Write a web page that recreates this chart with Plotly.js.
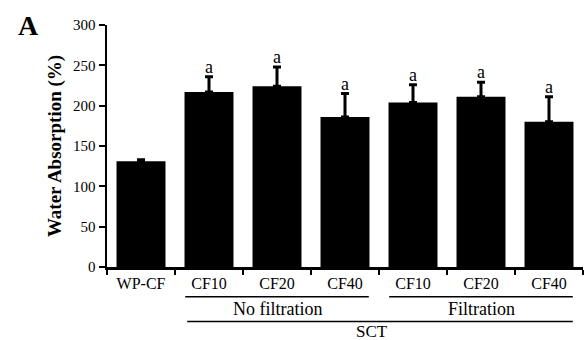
<!DOCTYPE html>
<html>
<head>
<meta charset="utf-8">
<script src="https://cdn.plot.ly/plotly-3.0.1.min.js"></script>
<style>html,body{margin:0;padding:0;background:#fff;}#chart{width:584px;height:340px;}</style>
</head>
<body>
<div id="chart"></div>
<script>
const categories = ["WP-CF", "CF10", "CF20", "CF40", "CF10 ", "CF20 ", "CF40 "];
const tickLabels = ["WP-CF", "CF10", "CF20", "CF40", "CF10", "CF20", "CF40"];
const values = [131, 217, 224, 186, 204, 211, 180];
const errors = [2, 19, 24, 29, 22, 18, 31];
const letters = ["", "a", "a", "a", "a", "a", "a"];
const yTicks = [0, 50, 100, 150, 200, 250, 300];
const groups = [
  {label: "No filtration", from: 1, to: 3},
  {label: "Filtration", from: 4, to: 6}
];
const superGroup = {label: "SCT", from: 1, to: 6};

const font = "Liberation Serif";

const trace = {
  type: "bar",
  x: categories,
  y: values,
  width: 0.72,
  marker: {color: "#000", line: {width: 0}},
  error_y: {
    type: "data", symmetric: false, array: errors,
    arrayminus: values.map(() => 0),
    color: "#000", thickness: 3, width: 4
  },
  hoverinfo: "skip"
};

const annotations = [];
categories.forEach((c, i) => {
  if (letters[i]) {
    annotations.push({
      x: c, y: values[i] + errors[i], xref: "x", yref: "y",
      text: letters[i], showarrow: false, yanchor: "bottom", yshift: -2,
      font: {family: font, size: 18, color: "#000"}
    });
  }
});

const shapes = [];
const lineY1 = -0.123, lineY2 = -0.225;
groups.forEach(g => {
  shapes.push({type: "line", xref: "x", yref: "paper",
    x0: g.from - 0.35, x1: g.to + 0.35, y0: lineY1, y1: lineY1,
    line: {color: "#000", width: 1.5}});
  annotations.push({x: (g.from + g.to) / 2, y: -0.174, xref: "x", yref: "paper",
    text: g.label, showarrow: false, xanchor: "center", yanchor: "middle",
    font: {family: font, size: 18, color: "#000"}});
});
shapes.push({type: "line", xref: "x", yref: "paper",
  x0: superGroup.from - 0.32, x1: superGroup.to + 0.35, y0: lineY2, y1: lineY2,
  line: {color: "#000", width: 1.5}});
annotations.push({x: (superGroup.from + superGroup.to) / 2 - 0.1, y: -0.265, xref: "x", yref: "paper",
  text: superGroup.label, showarrow: false, xanchor: "center", yanchor: "middle",
  font: {family: font, size: 17, color: "#000"}});

annotations.push({x: -0.109, y: 0.5, xref: "paper", yref: "paper",
  text: "<b>Water Absorption (%)</b>", textangle: -90, showarrow: false,
  xanchor: "center", yanchor: "middle",
  font: {family: font, size: 19, color: "#000"}});
annotations.push({x: (28 - 107) / 476, y: 1.0, xref: "paper", yref: "paper", text: "<b>A</b>",
  showarrow: false, xanchor: "center", yanchor: "middle",
  font: {family: font, size: 28, color: "#000"}});

const layout = {
  width: 584, height: 340,
  margin: {l: 107, r: 1, t: 25, b: 73, pad: 0},
  paper_bgcolor: "#fff", plot_bgcolor: "#fff",
  showlegend: false,
  font: {family: font, color: "#000"},
  xaxis: {
    type: "category", range: [-0.5, 6.5],
    tickmode: "array", tickvals: categories, ticktext: tickLabels,
    tickson: "boundaries",
    ticks: "outside", ticklen: 5, tickwidth: 2, tickcolor: "#000",
    showline: true, linecolor: "#000", linewidth: 2.5,
    showgrid: false, zeroline: false,
    tickfont: {family: font, size: 16, color: "#000"},
    fixedrange: true
  },
  yaxis: {
    range: [0, 300], tickmode: "array", tickvals: yTicks,
    ticks: "outside", ticklen: 6, tickwidth: 2, tickcolor: "#000",
    showline: true, linecolor: "#000", linewidth: 2.5,
    showgrid: false, zeroline: false,
    tickfont: {family: font, size: 15, color: "#000"},
    fixedrange: true
  },
  shapes: shapes,
  annotations: annotations
};

Plotly.newPlot("chart", [trace], layout, {displayModeBar: false, staticPlot: true});
</script>
</body>
</html>
